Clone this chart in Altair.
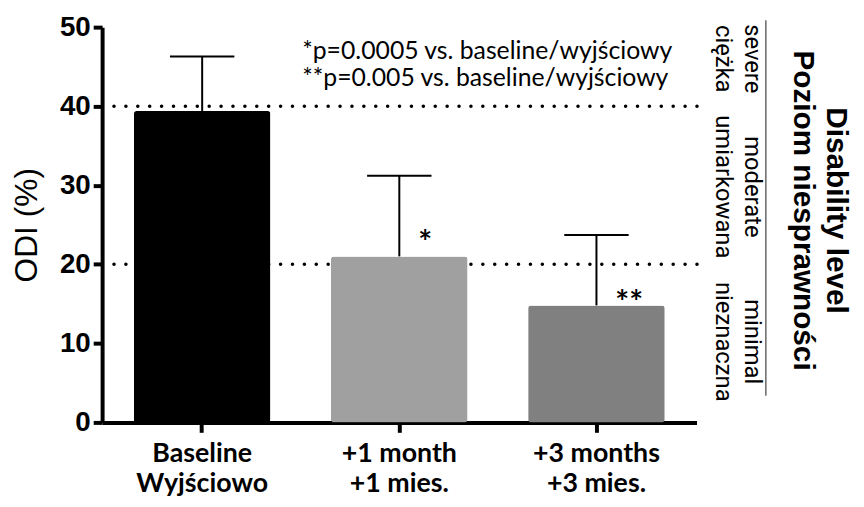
import altair as alt
import pandas as pd

categories = ["Baseline|Wyjściowo", "+1 month|+1 mies.", "+3 months|+3 mies."]
means = [39.4, 21.0, 14.8]
upper = [46.3, 31.2, 23.7]
colors = ["#000000", "#a0a0a0", "#808080"]
sig_marks = ["", "*", "**"]
sig_y = [0, 23.9, 16.4]

thresholds = [20, 40]

note_lines = ["*p=0.0005 vs. baseline/wyjściowy", "**p=0.005 vs. baseline/wyjściowy"]
note_y = [47.0, 43.6]

level_en = ["severe", "moderate", "minimal"]
level_pl = ["ciężka", "umiarkowana", "nieznaczna"]
level_y = [46.0, 29.8, 10.2]

title_lines = ["Disability level", "Poziom niesprawności"]
title_y = 26.8

df = pd.DataFrame({"cat": categories, "mean": means, "upper": upper,
                   "color": colors, "sig": sig_marks, "sig_y": sig_y})

xscale = alt.Scale(domain=categories, paddingInner=0.307, paddingOuter=0.161)
yscale = alt.Scale(domain=[0, 50], nice=False)

x_axis = alt.Axis(title=None, labelExpr="split(datum.value, '|')", labelFont="Lato",
                  labelFontWeight="bold", labelFontSize=27, labelLineHeight=31,
                  labelPadding=8, labelAngle=0, domainWidth=4, tickWidth=4, tickSize=10,
                  domainColor="black", tickColor="black", labelColor="black")
y_axis = alt.Axis(title="ODI (%)", values=[0, 10, 20, 30, 40, 50], labelFont="Liberation Sans",
                  labelFontWeight="bold", labelFontSize=28, labelPadding=3,
                  titleFont="Liberation Sans", titleFontWeight="normal", titleFontSize=32,
                  titlePadding=16, domainWidth=4, tickWidth=4, tickSize=9,
                  domainColor="black", tickColor="black", labelColor="black", titleColor="black",
                  grid=False)

base = alt.Chart(df)

dots = alt.Chart(pd.DataFrame({"t": thresholds})).mark_rule(
    color="black", strokeWidth=3.6, strokeDash=[0.01, 12], strokeCap="round"
).encode(y=alt.Y("t:Q", scale=yscale), x=alt.value(12), x2=alt.value(603))

bars = base.mark_bar(cornerRadius=3).encode(
    x=alt.X("cat:N", scale=xscale, axis=x_axis, sort=categories),
    y=alt.Y("mean:Q", scale=yscale, axis=y_axis),
    color=alt.Color("color:N", scale=None),
)

err = base.mark_rule(color="black", strokeWidth=2).encode(
    x=alt.X("cat:N", scale=xscale, sort=categories),
    y=alt.Y("mean:Q", scale=yscale), y2="upper:Q")

caps = base.mark_tick(color="black", size=65, thickness=2, opacity=1).encode(
    x=alt.X("cat:N", scale=xscale, sort=categories),
    y=alt.Y("upper:Q", scale=yscale))

sig = base.mark_text(font="Lato", fontSize=33, fontWeight="bold", dx=19, dy=11,
                     baseline="middle", align="left", color="black").encode(
    x=alt.X("cat:N", scale=xscale, sort=categories),
    y=alt.Y("sig_y:Q", scale=yscale), text="sig:N")

notes = alt.Chart(pd.DataFrame({"t": note_lines, "y": note_y})).mark_text(
    font="Lato", fontSize=25, align="left", baseline="middle", color="black"
).encode(x=alt.value(202), y=alt.Y("y:Q", scale=yscale), text="t:N")

lev_en = alt.Chart(pd.DataFrame({"t": level_en, "y": level_y})).mark_text(
    font="Roboto", fontSize=24, angle=90, align="center", baseline="middle",
    color="black"
).encode(x=alt.value(656), y=alt.Y("y:Q", scale=yscale), text="t:N")

lev_pl = alt.Chart(pd.DataFrame({"t": level_pl, "y": level_y})).mark_text(
    font="Roboto", fontSize=24, angle=90, align="center", baseline="middle",
    color="black"
).encode(x=alt.value(627), y=alt.Y("y:Q", scale=yscale), text="t:N")

vline = alt.Chart(pd.DataFrame({"a": [1]})).mark_rule(color="#666666", strokeWidth=1.5).encode(
    x=alt.value(670), y=alt.value(-7), y2=alt.value(372))

titles = alt.Chart(pd.DataFrame({"t": title_lines, "x": [741, 707], "y": [title_y, title_y]})).mark_text(
    font="Liberation Sans", fontSize=30, fontWeight="bold", angle=90, align="center",
    baseline="middle", color="black"
).encode(x=alt.X("x:Q", scale=None), y=alt.Y("y:Q", scale=yscale), text="t:N")

chart = alt.layer(dots, bars, err, caps, sig, notes, lev_en, lev_pl, vline, titles).properties(
    width=600, height=399,
    autosize=alt.AutoSizeParams(type="none"),
    padding={"left": 95, "top": 17, "right": 161, "bottom": 75},
).configure_view(stroke=None)

chart.save("out.html", embed_options={"renderer": "svg", "actions": False})
